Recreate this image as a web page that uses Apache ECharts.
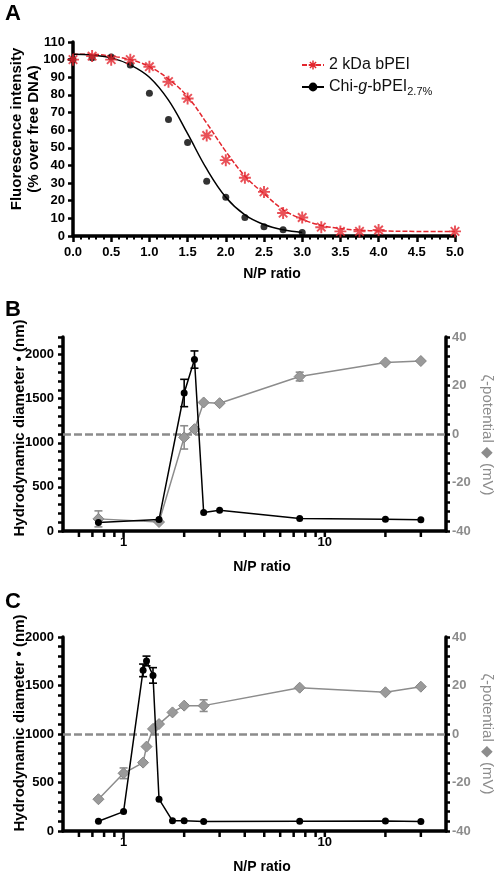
<!DOCTYPE html>
<html>
<head>
<meta charset="utf-8">
<script src="https://cdn.jsdelivr.net/npm/echarts@6/dist/echarts.min.js"></script>
<style>
html,body{margin:0;padding:0;background:#fff;}
#chart{width:498px;height:877px;}
</style>
</head>
<body>
<div id="chart"></div>
<script>
// ---------- Panel A data ----------
const npA = [0, 0.25, 0.5, 0.75, 1, 1.25, 1.5, 1.75, 2, 2.25, 2.5, 2.75, 3, 3.25, 3.5, 3.75, 4, 5];
const bpeiA = [100, 102, 100, 100, 96, 87.5, 78, 57, 43, 33, 25, 13, 10.5, 5, 2.6, 2.6, 3.4, 2.6];
const chiNpA = [0, 0.25, 0.5, 0.75, 1, 1.25, 1.5, 1.75, 2, 2.25, 2.5, 2.75, 3];
const chiA = [100, 101, 101.5, 97, 81, 66, 53, 31, 22, 10.5, 5.3, 3.6, 2];
// fitted curves
const bpeiFitX = [0, 0.25, 0.5, 0.75, 1, 1.25, 1.5, 1.75, 2, 2.25, 2.5, 2.75, 3, 3.25, 3.5, 3.75, 4, 4.5, 5];
const bpeiFit = [103, 103, 102, 100, 96, 89, 79, 64, 48, 34, 24, 15, 9.5, 6, 4.2, 3.3, 2.9, 2.6, 2.5];
const chiFitX = [0, 0.25, 0.5, 0.75, 1, 1.25, 1.5, 1.75, 2, 2.25, 2.5, 2.75, 3];
const chiFit = [103, 102.5, 101, 97, 90, 77, 58, 38, 22, 12, 6.5, 3.5, 2];
const legendNames = ['2 kDa bPEI', 'Chi-g-bPEI2.7%'];

// ---------- Panel B data ----------
const npB = [0.75, 1.5, 2, 2.25, 2.5, 3, 7.5, 20, 30];
const diamB = [95, 130, 1565, 1944, 210, 236, 142, 134, 127];
const diamBSd = [0, 0, 155, 98, 0, 0, 0, 0, 0];
const zetaB = [-35, -36.3, -1.4, 2, 13, 12.7, 23.7, 29.5, 30.1];
const zetaBSd = [3.3, 0, 4.8, 0, 0, 0, 1.8, 0, 0];

// ---------- Panel C data ----------
const npC = [0.75, 1, 1.25, 1.3, 1.4, 1.5, 1.75, 2, 2.5, 7.5, 20, 30];
const diamC = [100, 200, 1656, 1753, 1604, 328, 105, 105, 98, 100, 103, 98];
const diamCSd = [0, 0, 65, 50, 80, 0, 0, 0, 0, 0, 0, 0];
const zetaC = [-26.9, -16.2, -11.8, -5.2, 2.1, 4.1, 8.9, 11.7, 11.7, 19.1, 17.2, 19.5];
const zetaCSd = [0, 2.2, 0, 0, 0, 0, 0, 0, 2.4, 0, 0, 0];

// log-axis tick positions
const logTicks = [0.6, 0.7, 0.8, 0.9, 1, 2, 3, 4, 5, 6, 7, 8, 9, 10, 20, 30];
const logLabels = [1, 10];

// ---------- styling ----------
const FONT = '"Liberation Sans", Arial, Helvetica, sans-serif';
const RED = '#e3262e';
const GRAY = '#8c8c8c';
const starPath = 'path://M-1,-0.16L1,-0.16L1,0.16L-1,0.16Z' +
  'M0.16,-1L0.16,1L-0.16,1L-0.16,-1Z' +
  'M-0.594,-0.820L0.820,0.594L0.594,0.820L-0.820,-0.594Z' +
  'M-0.820,0.594L0.594,-0.820L0.820,-0.594L-0.594,0.820Z';

const pairs = (xs, ys) => xs.map((x, i) => [x, ys[i]]);

const axisLine = {show: true, onZero: false, lineStyle: {color: '#000', width: 3.5}};
const tickStyle = {show: true, length: 5, lineStyle: {color: '#000', width: 2.5}};
const labelStyle = {color: '#000', fontWeight: 'bold', fontSize: 13, fontFamily: FONT};

function logXAxis(gi) {
  return {
    type: 'log', logBase: 10, gridIndex: gi, min: 0.5, max: 40,
    axisLine: axisLine, axisTick: {show: false}, splitLine: {show: false},
    minorTick: {show: false},
    axisLabel: Object.assign({}, labelStyle, {
      margin: 5,
      formatter: v => logLabels.some(l => Math.abs(v - l) < 1e-6 * l) ? String(Math.round(v)) : ''
    })
  };
}
function leftY(gi, max) {
  return {
    type: 'value', gridIndex: gi, min: 0, max: max, interval: 100, position: 'left',
    axisLine: axisLine, axisTick: tickStyle, splitLine: {show: false},
    axisLabel: Object.assign({}, labelStyle, {
      margin: 9,
      formatter: v => (Math.round(v) % 500 === 0) ? String(Math.round(v)) : ''
    })
  };
}
function rightY(gi) {
  return {
    type: 'value', gridIndex: gi, min: -40, max: 40, interval: 4, position: 'right',
    axisLine: axisLine, axisTick: {show: true, length: 4, lineStyle: {color: '#000', width: 2.5}},
    splitLine: {show: false},
    axisLabel: Object.assign({}, labelStyle, {
      color: GRAY, margin: 6,
      formatter: v => (Math.round(v) % 20 === 0) ? String(Math.round(v)) : ''
    })
  };
}
function tickSeries(xi, yi) {
  return {
    type: 'custom', xAxisIndex: xi, yAxisIndex: yi, silent: true, clip: false, z: 5,
    data: logTicks.map(v => [v, 0]),
    renderItem: (params, api) => {
      const p = api.coord([api.value(0), api.value(1)]);
      return {type: 'rect', shape: {x: p[0] - 1.25, y: p[1] + 1, width: 2.5, height: 5},
              style: {fill: '#000'}};
    }
  };
}
function errSeries(xi, yi, xs, ys, sds, color) {
  const data = [];
  xs.forEach((x, i) => { if (sds[i] > 0) data.push([x, ys[i] - sds[i], ys[i] + sds[i]]); });
  return {
    type: 'custom', xAxisIndex: xi, yAxisIndex: yi, silent: true, clip: false, z: 3,
    encode: {x: 0, y: [1, 2]},
    data: data,
    renderItem: (params, api) => {
      const lo = api.coord([api.value(0), api.value(1)]);
      const hi = api.coord([api.value(0), api.value(2)]);
      const st = {stroke: color, lineWidth: 1.6};
      const w = 4;
      return {type: 'group', children: [
        {type: 'line', shape: {x1: lo[0], y1: lo[1], x2: hi[0], y2: hi[1]}, style: st},
        {type: 'line', shape: {x1: lo[0] - w, y1: lo[1], x2: lo[0] + w, y2: lo[1]}, style: st},
        {type: 'line', shape: {x1: hi[0] - w, y1: hi[1], x2: hi[0] + w, y2: hi[1]}, style: st}
      ]};
    }
  };
}
function diamSeries(xi, yi, xs, ys) {
  return {
    type: 'line', xAxisIndex: xi, yAxisIndex: yi, data: pairs(xs, ys), z: 4,
    symbol: 'circle', symbolSize: 7, showAllSymbol: true,
    lineStyle: {color: '#000', width: 1.5}, itemStyle: {color: '#000'}, silent: true
  };
}
function zetaSeries(xi, yi, xs, ys) {
  return {
    type: 'line', xAxisIndex: xi, yAxisIndex: yi, data: pairs(xs, ys), z: 3,
    symbol: 'diamond', symbolSize: 11, showAllSymbol: true,
    lineStyle: {color: GRAY, width: 1.5},
    itemStyle: {color: '#9a9a9a', borderColor: '#858585', borderWidth: 1}, silent: true,
    markLine: {
      silent: true, symbol: 'none', label: {show: false}, z: 1,
      lineStyle: {color: GRAY, type: [8, 3], width: 2.5},
      data: [{yAxis: 0}]
    }
  };
}
function txt(x, y, text, opts) {
  opts = opts || {};
  return {
    type: 'text', x: x, y: y, rotation: opts.rot || 0, z: 10,
    style: {
      text: text, fill: opts.color || '#000',
      font: (opts.weight || 'bold') + ' ' + (opts.size || 14) + 'px ' + FONT,
      align: opts.align || 'center', verticalAlign: 'middle',
      textAlign: opts.align || 'center', textVerticalAlign: 'middle'
    }
  };
}

const option = {
  backgroundColor: '#fff',
  animation: false,
  grid: [
    {left: 73, top: 42, width: 382, height: 194},
    {left: 63, top: 337, width: 383, height: 194},
    {left: 63, top: 637, width: 383, height: 194}
  ],
  legend: {
    left: 296, top: 52, orient: 'vertical', itemGap: 6, itemWidth: 22, itemHeight: 11,
    data: legendNames,
    formatter: n => n === legendNames[0] ? '{n|2 kDa bPEI}' : '{n|Chi-}{i|g}{n|-bPEI}{s|2.7%}',
    textStyle: {
      fontFamily: FONT, fontSize: 16, color: '#111',
      rich: {
        n: {fontFamily: FONT, fontSize: 16, color: '#111', lineHeight: 20},
        i: {fontFamily: FONT, fontSize: 16, color: '#111', fontStyle: 'italic', lineHeight: 20},
        s: {fontFamily: FONT, fontSize: 11, color: '#111', verticalAlign: 'bottom', lineHeight: 11, padding: [7, 0, 0, 0]}
      }
    }
  },
  xAxis: [
    {
      type: 'value', gridIndex: 0, min: 0, max: 5, interval: 0.5,
      axisLine: axisLine, axisTick: {show: true, length: 6, lineStyle: {color: '#000', width: 2.5}},
      minorTick: {show: true, splitNumber: 5, length: 3.5, lineStyle: {color: '#000', width: 2}},
      splitLine: {show: false},
      axisLabel: Object.assign({}, labelStyle, {margin: 10, formatter: v => v.toFixed(1)})
    },
    logXAxis(1),
    logXAxis(2)
  ],
  yAxis: [
    {
      type: 'value', gridIndex: 0, min: 0, max: 110, interval: 10,
      axisLine: axisLine, axisTick: tickStyle, splitLine: {show: false},
      axisLabel: Object.assign({}, labelStyle, {margin: 8})
    },
    leftY(1, 2200),
    rightY(1),
    leftY(2, 2000),
    rightY(2)
  ],
  series: [
    // Panel A
    {
      name: legendNames[0], type: 'line', xAxisIndex: 0, yAxisIndex: 0,
      data: pairs(bpeiFitX, bpeiFit), smooth: 0.4, showSymbol: false,
      symbol: starPath, symbolSize: 11,
      lineStyle: {color: RED, width: 1.5, type: [5, 2]}, itemStyle: {color: RED}, z: 2
    },
    {
      name: legendNames[1], type: 'line', xAxisIndex: 0, yAxisIndex: 0,
      data: pairs(chiFitX, chiFit), smooth: 0.4, showSymbol: false,
      symbol: 'circle', symbolSize: 7,
      lineStyle: {color: '#000', width: 1.5}, itemStyle: {color: '#000'}, z: 2
    },
    {
      type: 'scatter', xAxisIndex: 0, yAxisIndex: 0, data: pairs(chiNpA, chiA),
      symbol: 'circle', symbolSize: 7, itemStyle: {color: '#000'}, z: 3, silent: true
    },
    {
      type: 'scatter', xAxisIndex: 0, yAxisIndex: 0, data: pairs(npA, bpeiA),
      symbol: starPath, symbolSize: 12, itemStyle: {color: RED}, z: 4, silent: true
    },
    // Panel B
    zetaSeries(1, 2, npB, zetaB),
    errSeries(1, 2, npB, zetaB, zetaBSd, GRAY),
    diamSeries(1, 1, npB, diamB),
    errSeries(1, 1, npB, diamB, diamBSd, '#000'),
    tickSeries(1, 1),
    // Panel C
    zetaSeries(2, 4, npC, zetaC),
    errSeries(2, 4, npC, zetaC, zetaCSd, GRAY),
    diamSeries(2, 3, npC, diamC),
    errSeries(2, 3, npC, diamC, diamCSd, '#000'),
    tickSeries(2, 3)
  ],
  graphic: [
    txt(5, 14, 'A', {size: 22, align: 'left'}),
    txt(5, 310, 'B', {size: 22, align: 'left'}),
    txt(5, 602, 'C', {size: 22, align: 'left'}),
    txt(17, 129, 'Fluorescence intensity', {rot: Math.PI / 2, size: 15}),
    txt(34, 129, '(% over free DNA)', {rot: Math.PI / 2, size: 15}),
    txt(272, 274, 'N/P ratio'),
    txt(20, 428, 'Hydrodynamic diameter \u2022 (nm)', {rot: Math.PI / 2, size: 15}),
    txt(487, 435, '\u03B6-potential \u25C6 (mV)', {rot: -Math.PI / 2, color: GRAY, weight: 'normal', size: 15}),
    txt(262, 567, 'N/P ratio'),
    txt(20, 723, 'Hydrodynamic diameter \u2022 (nm)', {rot: Math.PI / 2, size: 15}),
    txt(487, 734, '\u03B6-potential \u25C6 (mV)', {rot: -Math.PI / 2, color: GRAY, weight: 'normal', size: 15}),
    txt(262, 867, 'N/P ratio')
  ]
};

const chart = echarts.init(document.getElementById('chart'), null, {renderer: 'canvas'});
chart.setOption(option);
</script>
</body>
</html>
